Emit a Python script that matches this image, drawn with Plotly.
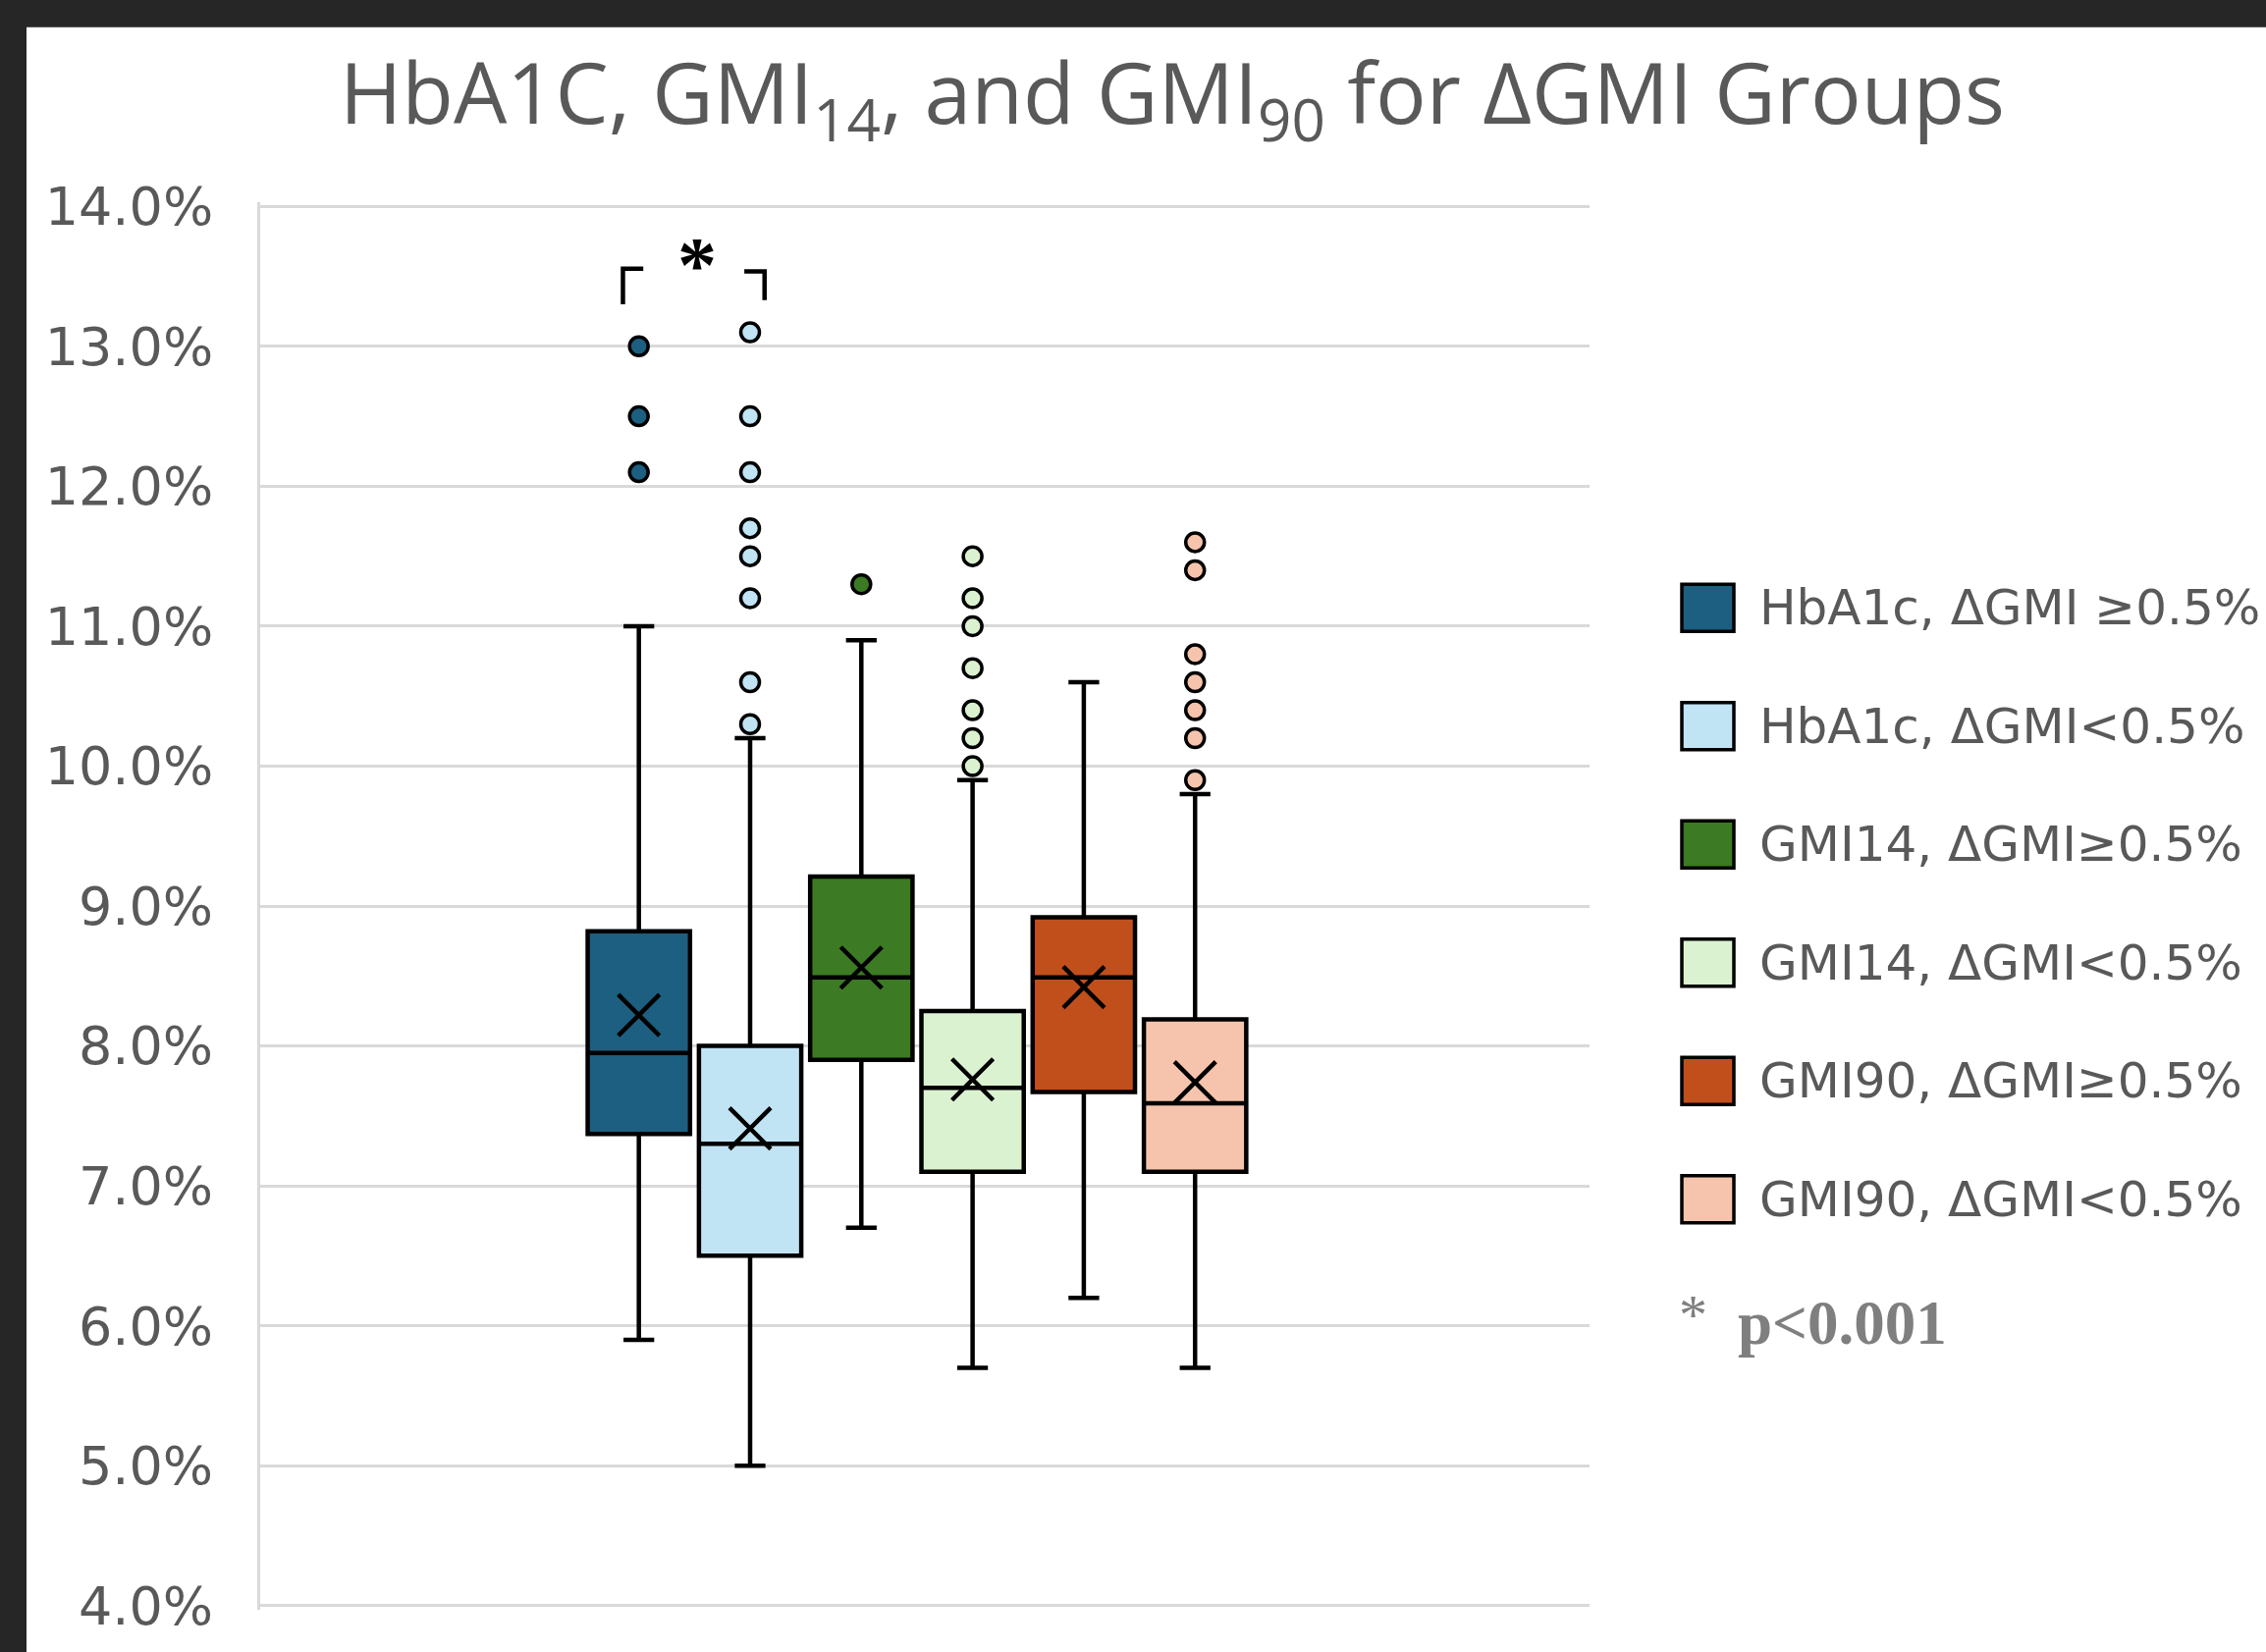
import plotly.graph_objects as go

# ---------------- data ----------------
groups = ["HbA1c, ΔGMI ≥0.5%", "HbA1c, ΔGMI&lt;0.5%", "GMI14, ΔGMI≥0.5%",
          "GMI14, ΔGMI&lt;0.5%", "GMI90, ΔGMI≥0.5%", "GMI90, ΔGMI&lt;0.5%"]
q1 = [7.37, 6.50, 7.90, 7.10, 7.67, 7.10]
median = [7.95, 7.30, 8.49, 7.70, 8.49, 7.59]
q3 = [8.82, 8.00, 9.21, 8.25, 8.92, 8.19]
lower_whisker = [5.90, 5.00, 6.70, 5.70, 6.20, 5.70]
upper_whisker = [11.00, 10.20, 10.90, 9.90, 10.60, 9.80]
means = [8.22, 7.41, 8.56, 7.76, 8.42, 7.74]
outliers = [
    [13.0, 12.5, 12.1],
    [13.1, 12.5, 12.1, 11.7, 11.5, 11.2, 10.6, 10.3],
    [11.3],
    [11.5, 11.2, 11.0, 10.7, 10.4, 10.2, 10.0],
    [],
    [11.6, 11.4, 10.8, 10.6, 10.4, 10.2, 9.9],
]
y_ticks = [4, 5, 6, 7, 8, 9, 10, 11, 12, 13, 14]
title_text = "HbA1C, GMI<sub>14</sub>, and GMI<sub>90</sub> for ΔGMI Groups"
sig_note = "p&lt;0.001"

# ---------------- styles ----------------
colors = ["#1C5F80", "#C1E4F5", "#3C7A23", "#DAF2D0", "#C14F1C", "#F6C4AD"]
W, H = 2308, 1683
Y_LO, Y_HI, PAD = 4.0, 14.0, 0.03
PX_LO, PX_HI = 1636.0, 210.5          # pixel rows of 4% and 14%
UNIT = (PX_LO - PX_HI) / (Y_HI - Y_LO)
PT = PX_HI - PAD * UNIT
PB = PX_LO + PAD * UNIT
PL, PR = 265, 1619
GRAY = "#595959"
GRID = "#D9D9D9"


def pxx(px):
    return (px - PL) / (PR - PL)


def pyy(py):
    return (PB - py) / (PB - PT)


fig = go.Figure()
positions = list(range(len(groups)))

for i, pos in enumerate(positions):
    fig.add_trace(go.Box(
        x=[pos], q1=[q1[i]], median=[median[i]], q3=[q3[i]],
        lowerfence=[lower_whisker[i]], upperfence=[upper_whisker[i]],
        fillcolor=colors[i], line=dict(color="black", width=4.5),
        whiskerwidth=0.3, width=0.92, boxpoints=False, showlegend=False,
        hoverinfo="skip"))

for i, pos in enumerate(positions):
    if outliers[i]:
        fig.add_trace(go.Scatter(
            x=[pos] * len(outliers[i]), y=outliers[i], mode="markers",
            marker=dict(symbol="circle", size=19, color=colors[i],
                        line=dict(color="black", width=3.5)),
            showlegend=False, hoverinfo="skip"))

fig.add_trace(go.Scatter(
    x=positions, y=means, mode="markers",
    marker=dict(symbol="x-thin", size=42, color="black",
                line=dict(color="black", width=4.5)),
    showlegend=False, hoverinfo="skip"))

shapes = []
# white page area on dark frame
shapes.append(dict(type="rect", xref="paper", yref="paper",
                   x0=pxx(27), x1=pxx(W + 5), y0=pyy(H + 5), y1=pyy(28),
                   fillcolor="white", line=dict(width=0), layer="below"))

# significance bracket between first two boxes
p0, p1 = positions[0], positions[1]
shapes.append(dict(type="path", xref="x", yref="y",
                   path=f"M {p0-0.143},13.30 L {p0-0.143},13.555 L {p0+0.04},13.555",
                   line=dict(color="black", width=4.5)))
shapes.append(dict(type="path", xref="x", yref="y",
                   path=f"M {p1-0.052},13.535 L {p1+0.13},13.535 L {p1+0.13},13.33",
                   line=dict(color="black", width=4.5)))

annotations = []
annotations.append(dict(x=(p0 + p1) / 2 + 0.02, y=13.58, xref="x", yref="y",
                        text="<b>*</b>", showarrow=False, xanchor="center", yanchor="middle",
                        font=dict(family="Liberation Serif", size=80, color="black")))

# manual legend
row0, step = 619.5, 120.5
for i, g in enumerate(groups):
    cy = row0 + i * step
    shapes.append(dict(type="rect", xref="paper", yref="paper",
                       x0=pxx(1713), x1=pxx(1766), y0=pyy(cy + 24), y1=pyy(cy - 24),
                       fillcolor=colors[i], line=dict(color="black", width=3.5)))
    annotations.append(dict(x=pxx(1790), y=pyy(cy), xref="paper", yref="paper",
                            text=g, showarrow=False, xanchor="left", yanchor="middle",
                            font=dict(family="DejaVu Sans", size=50, color=GRAY)))

annotations.append(dict(x=pxx(1708), y=pyy(1340), xref="paper", yref="paper",
                        text="*", showarrow=False, xanchor="left", yanchor="middle",
                        font=dict(family="Liberation Serif", size=58, color="#7F7F7F")))
annotations.append(dict(x=pxx(1768), y=pyy(1348), xref="paper", yref="paper",
                        text=f"<b>{sig_note}</b>", showarrow=False, xanchor="left",
                        yanchor="middle",
                        font=dict(family="Liberation Serif", size=63, color="#7F7F7F")))

fig.update_layout(
    template="none",
    width=W, height=H,
    margin=dict(l=PL, r=W - PR, t=PT, b=H - PB, pad=0),
    paper_bgcolor="#262626", plot_bgcolor="white",
    title=dict(text=title_text, x=1194 / W, xref="container", xanchor="center",
               y=1 - 96 / H, yref="container", yanchor="middle",
               font=dict(family="Open Sans", size=86, color=GRAY)),
    xaxis=dict(range=[-3.404, 8.546], showgrid=False, zeroline=False,
               showticklabels=False, showline=False, ticks=""),
    yaxis=dict(range=[Y_LO - PAD, Y_HI + PAD], tickvals=y_ticks,
               ticktext=[f"{v:.1f}%" for v in y_ticks],
               showgrid=True, gridcolor=GRID, gridwidth=3,
               zeroline=False, showline=True, linecolor=GRID, linewidth=3,
               ticks="", ticklabelstandoff=34,
               tickfont=dict(family="DejaVu Sans", size=54, color=GRAY)),
    shapes=shapes, annotations=annotations,
    showlegend=False,
)

fig.write_html("out.html", config={"displayModeBar": False},
               post_script="document.body.style.margin='0';")
